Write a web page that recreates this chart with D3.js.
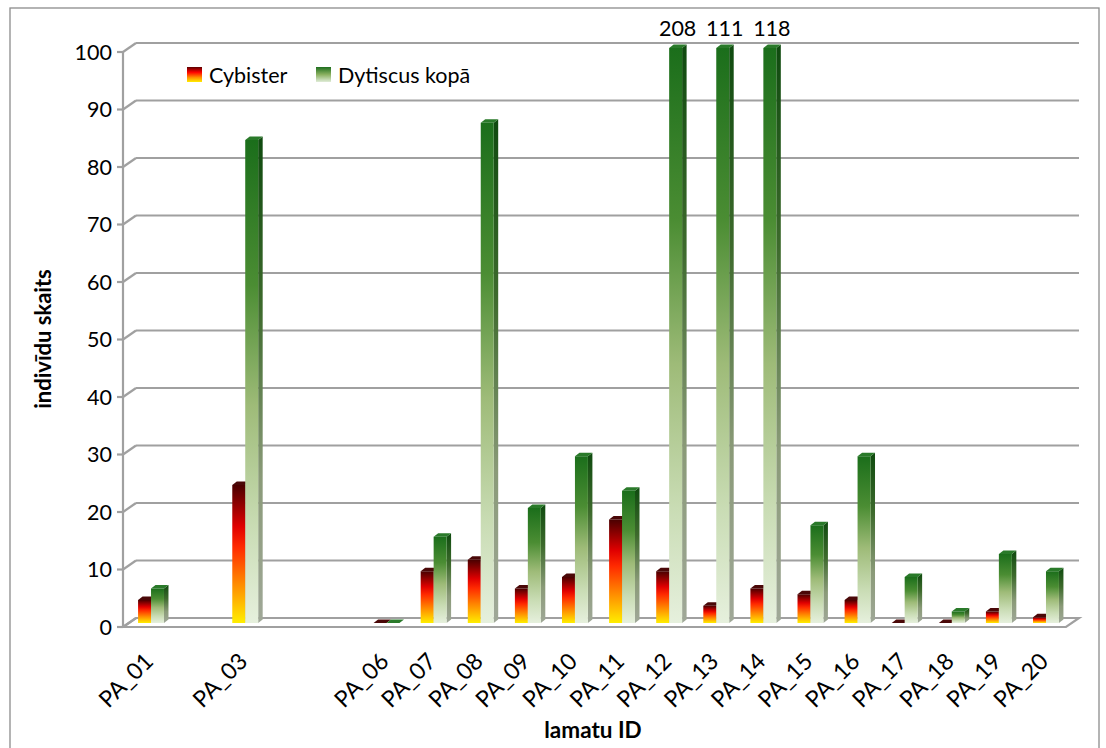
<!DOCTYPE html>
<html>
<head>
<meta charset="utf-8">
<script src="https://cdn.jsdelivr.net/npm/d3@7"></script>
<style>
  html, body { margin: 0; padding: 0; background: #fff; }
  svg { display: block; font-family: Lato, "Open Sans", sans-serif; }
</style>
</head>
<body>
<svg id="chart" width="1106" height="748"></svg>
<script>
// Trap IDs (empty labels for traps without a record)
const categories = ["PA_01","","PA_03","","","PA_06","PA_07","PA_08","PA_09","PA_10",
                    "PA_11","PA_12","PA_13","PA_14","PA_15","PA_16","PA_17","PA_18","PA_19","PA_20"];
const seriesNames = ["Cybister", "Dytiscus kopā"];
const cybister = [4, null, 24, null, null, 0, 9, 11, 6, 8, 18, 9, 3, 6, 5, 4, 0, 0, 2, 1];
const dytiscus = [6, null, 84, null, null, 0, 15, 87, 20, 29, 23, 208, 111, 118, 17, 29, 8, 2, 12, 9];
const yTicks = [0, 10, 20, 30, 40, 50, 60, 70, 80, 90, 100];
const yMax = 100;

const svg = d3.select("#chart");

// plot geometry: front edge of the 3D box and the depth offset to the back wall
const left = 123, right = 1066, y0 = 627, y1 = 52;
const depthX = 13, depthY = -9;
const barShiftX = 4, barShiftY = -4;     // bars stand inside the box
const sideW = 4.5, sideH = 3.5;          // visible side/top faces of each column

const x = d3.scaleBand().domain(d3.range(categories.length)).range([left, right])
  .paddingInner(0.45).paddingOuter(0.235);
const xs = d3.scaleBand().domain([0, 1]).range([0, x.bandwidth()]);
const y = d3.scaleLinear().domain([0, yMax]).range([y0, y1]).clamp(true);

// outer frame
svg.append("rect").attr("x", 10).attr("y", 8).attr("width", 1089).attr("height", 760)
  .attr("fill", "none").attr("stroke", "#8c8c8c").attr("stroke-width", 1.3);

// gradients
const defs = svg.append("defs");
function vGrad(id, stops) {
  const g = defs.append("linearGradient").attr("id", id)
    .attr("x1", 0).attr("y1", 0).attr("x2", 0).attr("y2", 1);
  stops.forEach(s => g.append("stop").attr("offset", s[0]).attr("stop-color", s[1]));
}
vGrad("gRed", [[0, "#4a0000"], [0.3, "#e00000"], [0.45, "#ff2a00"], [0.72, "#ff8c00"], [1, "#ffee00"]]);
vGrad("gRedSide", [[0, "#300000"], [0.35, "#a00000"], [0.75, "#c06000"], [1, "#c0b000"]]);
vGrad("gGreen", [[0, "#1b6e1b"], [0.3, "#4b8d33"], [0.55, "#9ebb78"], [0.8, "#c9dcb4"], [1, "#e6f0dd"]]);
vGrad("gGreenSide", [[0, "#0f4a0f"], [0.35, "#3d6a2c"], [0.7, "#8a9a78"], [1, "#a0a898"]]);
vGrad("lgRed", [[0, "#5a0000"], [0.35, "#ff0000"], [0.7, "#ff9000"], [1, "#ffee00"]]);
vGrad("lgGreen", [[0, "#1e6e1e"], [0.5, "#8ab060"], [1, "#e0ecd8"]]);
const topFill = ["#4a0808", "#2a7a2a"];

const grid = svg.append("g").attr("stroke", "#a0a0a0").attr("stroke-width", 2.2).attr("fill", "none");

// back wall gridlines and their slanted side connectors
yTicks.forEach(t => {
  const yy = y(t);
  if (t > 0) {
    grid.append("line").attr("x1", left + depthX).attr("x2", right + depthX)
      .attr("y1", yy + depthY).attr("y2", yy + depthY);
  }
  grid.append("line").attr("x1", left).attr("y1", yy)
    .attr("x2", left + depthX).attr("y2", yy + depthY);
  grid.append("line").attr("x1", left - 6).attr("x2", left).attr("y1", yy).attr("y2", yy);
});

// floor
grid.append("path").attr("d", d3.line()([
  [left, y0], [right, y0], [right + depthX, y0 + depthY], [left + depthX, y0 + depthY], [left, y0]
]));
// value axis line
grid.append("line").attr("x1", left).attr("x2", left).attr("y1", y1).attr("y2", y0);

// y tick labels
svg.append("g").selectAll("text").data(yTicks).join("text")
  .attr("x", 112).attr("y", d => y(d)).attr("dy", "0.36em")
  .attr("text-anchor", "end").attr("font-size", 21.5).attr("fill", "#000")
  .text(d => d);

// columns
function drawColumn(g, bx, val, w, front, side, topColor) {
  const base = y(0) + barShiftY;
  const top = y(val) + barShiftY;
  const xl = bx + barShiftX;
  g.append("path").attr("fill", `url(#${side})`)
    .attr("d", d3.line()([[xl + w, top], [xl + w + sideW, top - sideH], [xl + w + sideW, base - sideH], [xl + w, base]]) + "Z");
  g.append("path").attr("fill", topColor)
    .attr("d", d3.line()([[xl, top], [xl + w, top], [xl + w + sideW, top - sideH], [xl + sideW, top - sideH]]) + "Z");
  if (base - top > 0.5) {
    g.append("rect").attr("x", xl).attr("y", top).attr("width", w).attr("height", base - top)
      .attr("fill", `url(#${front})`);
  }
}

const bars = svg.append("g");
const seriesData = [cybister, dytiscus];
const fills = [["gRed", "gRedSide"], ["gGreen", "gGreenSide"]];
categories.forEach((c, i) => {
  [0, 1].forEach(s => {
    const v = seriesData[s][i];
    if (v === null) return;
    const w = xs.bandwidth();
    drawColumn(bars, x(i) + xs(s), v, w, fills[s][0], fills[s][1], topFill[s]);
  });
});

// values beyond the axis maximum are written above the clipped columns
svg.append("g").selectAll("text")
  .data(dytiscus.map((v, i) => ({ v, i })).filter(d => d.v !== null && d.v > yMax))
  .join("text")
  .attr("x", d => x(d.i) + xs(1) + barShiftX + xs.bandwidth() / 2 + 2)
  .attr("y", 36).attr("text-anchor", "middle").attr("font-size", 21.5)
  .text(d => d.v);

// category labels
svg.append("g").selectAll("text").data(categories.map((c, i) => ({ c, i })).filter(d => d.c))
  .join("text")
  .attr("transform", d => `translate(${x(d.i) + x.bandwidth() / 2 + 2},${657}) rotate(-45)`)
  .attr("text-anchor", "end").attr("font-size", 23).attr("dy", "0.35em")
  .text(d => d.c);

// axis titles
svg.append("text").attr("x", 593).attr("y", 738).attr("text-anchor", "middle")
  .attr("font-size", 22.5).attr("font-weight", "bold").text("lamatu ID");
svg.append("text").attr("transform", "translate(51,339) rotate(-90)")
  .attr("text-anchor", "middle").attr("font-size", 22).attr("font-weight", "bold")
  .text("indivīdu skaits");

// legend
const legend = svg.append("g");
const legendX = [187, 316];
seriesNames.forEach((n, k) => {
  legend.append("rect").attr("x", legendX[k]).attr("y", 67).attr("width", 15).attr("height", 15)
    .attr("fill", k === 0 ? "url(#lgRed)" : "url(#lgGreen)");
  legend.append("text").attr("x", legendX[k] + 22).attr("y", 75).attr("dy", "0.36em")
    .attr("font-size", 21.5).text(n);
});
</script>
</body>
</html>
